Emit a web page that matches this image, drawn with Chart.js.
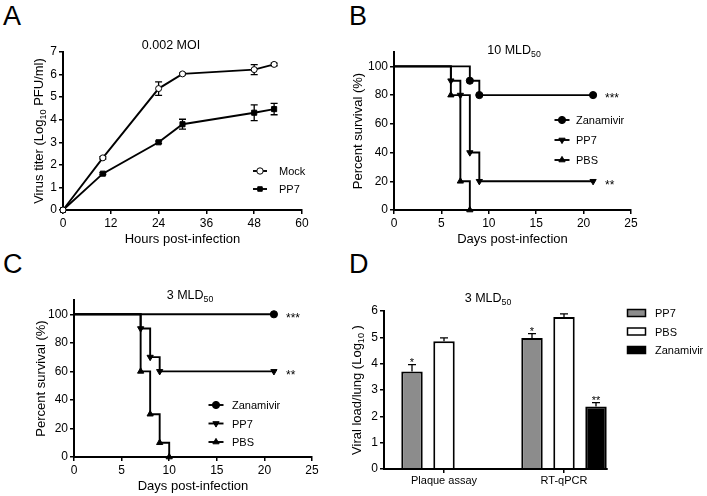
<!DOCTYPE html>
<html>
<head>
<meta charset="utf-8">
<script src="https://cdn.jsdelivr.net/npm/chart.js@4.4.1/dist/chart.umd.min.js"></script>
<style>
  body { margin: 0; background: #fff; width: 707px; height: 496px; position: relative; overflow: hidden;
         font-family: 'Liberation Sans', Arial, sans-serif; }
  canvas { position: absolute; }
  .letter { position: absolute; font-size: 27px; line-height: 1; color: #000; }
</style>
</head>
<body>
<div class="letter" style="left:3px;top:3px">A</div>
<div class="letter" style="left:349px;top:3px">B</div>
<div class="letter" style="left:3px;top:251px">C</div>
<div class="letter" style="left:349px;top:251px">D</div>

<canvas id="chartA" width="353" height="248" style="left:0;top:0"></canvas>
<canvas id="chartB" width="372" height="248" style="left:335px;top:0"></canvas>
<canvas id="chartC" width="353" height="248" style="left:0;top:248px"></canvas>
<canvas id="chartD" width="372" height="248" style="left:335px;top:248px"></canvas>

<script>
const FONT = "'Liberation Sans', Arial, sans-serif";
Chart.defaults.font.family = FONT;
Chart.defaults.color = '#000';
Chart.defaults.animation = false;

// A: virus titer after 0.002 MOI infection
const hoursA = [0, 10, 24, 30, 48, 53];
const mockTiter = [0, 2.31, 5.38, 6.03, 6.22, 6.45];
const mockErr = [0, 0.05, 0.3, 0.04, 0.22, 0.06];
const pp7Titer = [0, 1.61, 3.0, 3.8, 4.31, 4.47];
const pp7Err = [0, 0.04, 0.05, 0.22, 0.35, 0.25];

// B: survival, 10 MLD50
const zanDaysB = [0, 8, 9, 21];
const zanSurvB = [100, 90, 80, 80];
const pp7DaysB = [0, 6, 7, 8, 9, 21];
const pp7SurvB = [100, 90, 80, 40, 20, 20];
const pbsDaysB = [0, 6, 7, 8];
const pbsSurvB = [100, 80, 20, 0];

// C: survival, 3 MLD50
const zanDaysC = [0, 21];
const zanSurvC = [100, 100];
const pp7DaysC = [0, 7, 8, 9, 21];
const pp7SurvC = [100, 90, 70, 60, 60];
const pbsDaysC = [0, 7, 8, 9, 10];
const pbsSurvC = [100, 60, 30, 10, 0];

// D: lung viral load, 3 MLD50
const assays = ['Plaque assay', 'RT-qPCR'];
const pp7Load = [3.7, 4.97];
const pp7LoadErr = [0.26, 0.17];
const pbsLoad = [4.85, 5.77];
const pbsLoadErr = [0.13, 0.12];
const zanLoad = [null, 2.37];
const zanLoadErr = [null, 0.15];
const pp7Stars = ['*', '*'];
const pbsStars = ['', ''];
const zanStars = ['', '**'];

const pts = (xs, ys) => xs.map((x, i) => ({ x: x, y: ys[i] }));

// text with _{sub} parts, drawn centred (or left) on x,y
function drawRich(ctx, text, x, y, size, rotate, align) {
  const parts = [];
  text.split(/(_\{[^}]*\})/).forEach(s => {
    if (!s) return;
    if (s.startsWith('_{')) parts.push({ t: s.slice(2, -1), sub: true });
    else parts.push({ t: s, sub: false });
  });
  const subSize = size * 0.7;
  ctx.save();
  ctx.translate(x, y);
  if (rotate) ctx.rotate(-Math.PI / 2);
  let total = 0;
  parts.forEach(p => {
    ctx.font = (p.sub ? subSize : size) + 'px ' + FONT;
    p.w = ctx.measureText(p.t).width;
    total += p.w;
  });
  let cx = align === 'left' ? 0 : -total / 2;
  ctx.fillStyle = '#000';
  ctx.textBaseline = 'alphabetic';
  ctx.textAlign = 'left';
  parts.forEach(p => {
    ctx.font = (p.sub ? subSize : size) + 'px ' + FONT;
    ctx.fillText(p.t, cx, size * 0.36 + (p.sub ? size * 0.28 : 0));
    cx += p.w;
  });
  ctx.restore();
}

function textPlugin(items) {
  return {
    id: 'texts',
    afterDraw(chart) {
      items.forEach(it => {
        const p = typeof it.at === 'function' ? it.at(chart) : it.at;
        drawRich(chart.ctx, it.text, p[0], p[1], it.size || 13, it.rotate, it.align);
      });
    }
  };
}

const errorBars = {
  id: 'errorBars',
  beforeDatasetsDraw(chart) {
    const ctx = chart.ctx;
    const ys = chart.scales.y;
    chart.data.datasets.forEach((ds, di) => {
      if (!ds.err) return;
      const meta = chart.getDatasetMeta(di);
      ctx.save();
      ctx.strokeStyle = '#000';
      ctx.lineWidth = 1.3;
      meta.data.forEach((el, i) => {
        const e = ds.err[i];
        if (!e) return;
        const raw = ds.data[i];
        const v = raw !== null && typeof raw === 'object' ? raw.y : raw;
        const top = ys.getPixelForValue(v + e);
        const bot = ds.upOnly ? el.y : ys.getPixelForValue(v - e);
        const cap = ds.cap || 3.5;
        ctx.beginPath();
        ctx.moveTo(el.x, top); ctx.lineTo(el.x, bot);
        ctx.moveTo(el.x - cap, top); ctx.lineTo(el.x + cap, top);
        if (!ds.upOnly) { ctx.moveTo(el.x - cap, bot); ctx.lineTo(el.x + cap, bot); }
        ctx.stroke();
        if (ds.stars && ds.stars[i]) {
          ctx.fillStyle = '#000';
          ctx.font = '11px ' + FONT;
          ctx.textAlign = 'center';
          ctx.textBaseline = 'alphabetic';
          ctx.fillText(ds.stars[i], el.x, top + 1);
        }
      });
      ctx.restore();
    });
  }
};

function insetLegend(o) {
  return {
    id: 'insetLegend',
    afterDraw(chart) {
      const ctx = chart.ctx;
      chart.data.datasets.forEach((ds, i) => {
        const y = o.y0 + i * o.dy;
        ctx.save();
        if (o.bar) {
          ctx.fillStyle = ds.backgroundColor;
          ctx.strokeStyle = '#000';
          ctx.lineWidth = 1.5;
          ctx.fillRect(o.x - o.w / 2, y - o.h / 2, o.w, o.h);
          ctx.strokeRect(o.x - o.w / 2, y - o.h / 2, o.w, o.h);
        } else {
          ctx.strokeStyle = '#000';
          ctx.lineWidth = ds.borderWidth;
          ctx.beginPath();
          ctx.moveTo(o.x - o.w / 2, y); ctx.lineTo(o.x + o.w / 2, y);
          ctx.stroke();
          ctx.fillStyle = ds.pointBackgroundColor;
          ctx.strokeStyle = ds.pointBorderColor;
          ctx.lineWidth = ds.pointBorderWidth;
          Chart.helpers.drawPoint(ctx, { pointStyle: ds.pointStyle, rotation: ds.pointRotation || 0,
            radius: o.r, borderWidth: ds.pointBorderWidth }, o.x, y);
        }
        ctx.fillStyle = '#000';
        ctx.font = o.size + 'px ' + FONT;
        ctx.textAlign = 'left';
        ctx.textBaseline = 'middle';
        ctx.fillText(ds.label, o.tx, y + 1);
        ctx.restore();
      });
    }
  };
}

function linAxis(min, max, step, size, extra) {
  return Object.assign({
    type: 'linear', min: min, max: max,
    border: { display: true, color: '#000', width: 2 },
    grid: { drawOnChartArea: false, drawTicks: true, tickLength: 4, color: '#000', lineWidth: 1.5 },
    ticks: { stepSize: step, font: { size: 12 }, color: '#000', padding: 2, autoSkip: false, maxRotation: 0 },
    afterFit: s => { if (s.isHorizontal()) s.height = size; else s.width = size; }
  }, extra || {});
}

const xTitle = { display: true, text: 'Days post-infection', font: { size: 13 }, color: '#000', padding: { top: 0, bottom: 0 } };
const only100 = s => { s.ticks = s.ticks.filter(t => t.value <= 100); };

// ---------- A ----------
new Chart(document.getElementById('chartA'), {
  type: 'line',
  data: {
    datasets: [
      { label: 'Mock', data: pts(hoursA, mockTiter), err: mockErr, borderColor: '#000', borderWidth: 1.9,
        pointStyle: 'circle', pointRadius: 3, pointBackgroundColor: '#fff', pointBorderColor: '#000',
        pointBorderWidth: 1, clip: false },
      { label: 'PP7', data: pts(hoursA, pp7Titer), err: pp7Err, borderColor: '#000', borderWidth: 1.9,
        pointStyle: 'rect', pointRadius: 3.6, pointBackgroundColor: '#000', pointBorderColor: '#000',
        pointBorderWidth: 1, clip: false }
    ]
  },
  options: {
    responsive: false, devicePixelRatio: 1,
    layout: { padding: { left: 33, right: 51, top: 52, bottom: 1 } },
    plugins: { legend: { display: false }, tooltip: { enabled: false } },
    scales: {
      x: linAxis(0, 60, 12, 37, { title: Object.assign({}, xTitle, { text: 'Hours post-infection' }) }),
      y: linAxis(0, 7, 1, 30)
    }
  },
  plugins: [errorBars,
    insetLegend({ x: 260, w: 14, r: 3.2, tx: 279, y0: 171, dy: 18, size: 11 }),
    textPlugin([
      { text: '0.002 MOI', at: [171, 44], size: 12.5 },
      { text: 'Virus titer (Log_{10} PFU/ml)', at: c => [38, (c.chartArea.top + c.chartArea.bottom) / 2], size: 13, rotate: true }
    ])]
});

// ---------- B / C ----------
function survivalSet(label, days, surv, style, rot) {
  return {
    label: label, data: pts(days, surv), stepped: true, borderColor: '#000', borderWidth: 1.9,
    pointStyle: style, pointRotation: rot || 0, pointRadius: c => (c.dataIndex === 0 ? 0 : 3.6),
    pointBackgroundColor: '#000', pointBorderColor: '#000', pointBorderWidth: 1, clip: false
  };
}

function survivalChart(id, sets, pad, legend, texts) {
  return new Chart(document.getElementById(id), {
    type: 'line',
    data: { datasets: sets },
    options: {
      responsive: false, devicePixelRatio: 1,
      layout: { padding: pad },
      plugins: { legend: { display: false }, tooltip: { enabled: false } },
      scales: {
        x: linAxis(0, 25, 5, 37, { title: xTitle }),
        y: linAxis(0, 110, 20, 30, { afterBuildTicks: only100 })
      }
    },
    plugins: [insetLegend(legend), textPlugin(texts)]
  });
}

survivalChart('chartB', [
  survivalSet('Zanamivir', zanDaysB, zanSurvB, 'circle'),
  survivalSet('PP7', pp7DaysB, pp7SurvB, 'triangle', 180),
  survivalSet('PBS', pbsDaysB, pbsSurvB, 'triangle')
], { left: 29, right: 76, top: 52, bottom: 1 },
  { x: 227, w: 15, r: 3.6, tx: 241, y0: 120, dy: 20, size: 11 },
  [
    { text: '10 MLD_{50}', at: [179, 49], size: 12.5 },
    { text: 'Percent survival (%)', at: c => [22, (c.chartArea.top + c.chartArea.bottom) / 2], size: 13, rotate: true },
    { text: '***', at: c => [270, c.scales.y.getPixelForValue(80) + 3], size: 12, align: 'left' },
    { text: '**', at: c => [270, c.scales.y.getPixelForValue(20) + 3], size: 12, align: 'left' }
  ]);

survivalChart('chartC', [
  survivalSet('Zanamivir', zanDaysC, zanSurvC, 'circle'),
  survivalSet('PP7', pp7DaysC, pp7SurvC, 'triangle', 180),
  survivalSet('PBS', pbsDaysC, pbsSurvC, 'triangle')
], { left: 44, right: 41, top: 52, bottom: 2 },
  { x: 216, w: 15, r: 3.6, tx: 232, y0: 157, dy: 18.5, size: 11 },
  [
    { text: '3 MLD_{50}', at: [190, 46], size: 12.5 },
    { text: 'Percent survival (%)', at: c => [40, (c.chartArea.top + c.chartArea.bottom) / 2], size: 13, rotate: true },
    { text: '***', at: c => [286, c.scales.y.getPixelForValue(100) + 3], size: 12, align: 'left' },
    { text: '**', at: c => [286, c.scales.y.getPixelForValue(60) + 3], size: 12, align: 'left' }
  ]);

// ---------- D ----------
const shortXAxis = {
  id: 'shortXAxis',
  afterDraw(chart) {
    const a = chart.chartArea;
    const metas = chart.getSortedVisibleDatasetMetas();
    const last = metas[metas.length - 1].data[1];
    const ctx = chart.ctx;
    ctx.save();
    ctx.strokeStyle = '#000';
    ctx.lineWidth = 2;
    ctx.beginPath();
    ctx.moveTo(a.left - 1, a.bottom);
    ctx.lineTo(last.x + last.width / 2 + 1, a.bottom);
    ctx.stroke();
    ctx.restore();
  }
};

new Chart(document.getElementById('chartD'), {
  type: 'bar',
  data: {
    labels: assays,
    datasets: [
      { label: 'PP7', data: pp7Load, err: pp7LoadErr, stars: pp7Stars, upOnly: true, cap: 4,
        backgroundColor: '#8c8c8c', borderColor: '#000', borderWidth: 2 },
      { label: 'PBS', data: pbsLoad, err: pbsLoadErr, stars: pbsStars, upOnly: true, cap: 4,
        backgroundColor: '#ffffff', borderColor: '#000', borderWidth: 2 },
      { label: 'Zanamivir', data: zanLoad, err: zanLoadErr, stars: zanStars, upOnly: true, cap: 4,
        backgroundColor: '#000000', borderColor: '#000', borderWidth: 2 }
    ]
  },
  options: {
    responsive: false, devicePixelRatio: 1,
    categoryPercentage: 0.8, barPercentage: 0.67,
    layout: { padding: { left: 19, right: 83, top: 63, bottom: 2 } },
    plugins: { legend: { display: false }, tooltip: { enabled: false } },
    scales: {
      x: {
        type: 'category',
        border: { display: false },
        grid: { offset: false, drawOnChartArea: false, drawTicks: true, tickLength: 4, color: '#000', lineWidth: 1.5 },
        ticks: { font: { size: 11 }, color: '#000', padding: 1 },
        afterFit: s => { s.height = 25; }
      },
      y: linAxis(0, 6, 1, 30)
    }
  },
  plugins: [errorBars, shortXAxis,
    insetLegend({ bar: true, x: 301.5, w: 18, h: 7, tx: 320, y0: 65, dy: 18.5, size: 11 }),
    textPlugin([
      { text: '3 MLD_{50}', at: [153, 49], size: 12.5 },
      { text: 'Viral load/lung (Log_{10} )', at: c => [21, (c.chartArea.top + c.chartArea.bottom) / 2], size: 13, rotate: true }
    ])]
});
</script>
</body>
</html>
